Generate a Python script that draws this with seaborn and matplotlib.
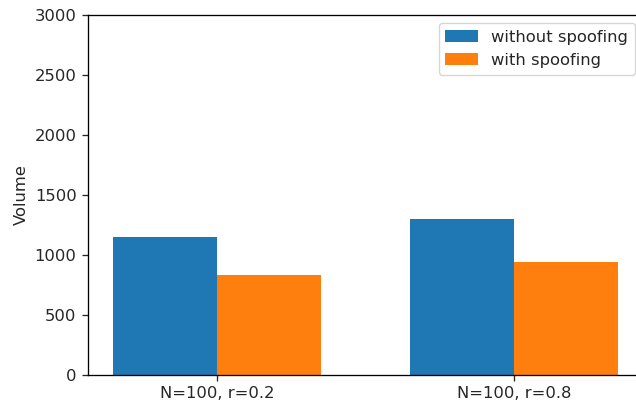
import matplotlib
matplotlib.use("Agg")
import matplotlib.pyplot as plt
import seaborn as sns
import pandas as pd

categories = ["N=100, r=0.2", "N=100, r=0.8"]
without_spoofing = [1150, 1300]
with_spoofing = [833, 943]
series_names = ["without spoofing", "with spoofing"]

df = pd.DataFrame({
    "cat": categories * 2,
    "Volume": without_spoofing + with_spoofing,
    "series": [series_names[0]] * 2 + [series_names[1]] * 2,
})

s = 1.18
plt.rcParams.update({
    "font.size": 10 * s,
    "xtick.major.size": 3.5 * s,
    "ytick.major.size": 3.5 * s,
    "xtick.major.pad": 3.5 * s,
    "ytick.major.pad": 3.5 * s,
    "axes.linewidth": 0.8 * s,
    "xtick.major.width": 0.8 * s,
    "ytick.major.width": 0.8 * s,
    "text.color": "#262626",
    "xtick.color": "#262626",
    "ytick.color": "#262626",
    "axes.labelcolor": "#262626",
})

fig = plt.figure(figsize=(6.36, 4.07), dpi=100)
ax = fig.add_axes([88 / 636, 1 - 375 / 407, 555 / 636, (375 - 15) / 407])
sns.barplot(data=df, x="cat", y="Volume", hue="series", ax=ax,
            palette=["#1f77b4", "#ff7f0e"], saturation=1, width=0.7,
            linewidth=0, errorbar=None)
ax.set_ylim(0, 3000)
ax.set_xlim(-0.435, 1.435)
ax.set_xlabel("")
ax.set_ylabel("Volume")
ax.spines["right"].set_visible(False)
ax.legend(loc="upper right")
fig.savefig("out.png", dpi=100)
